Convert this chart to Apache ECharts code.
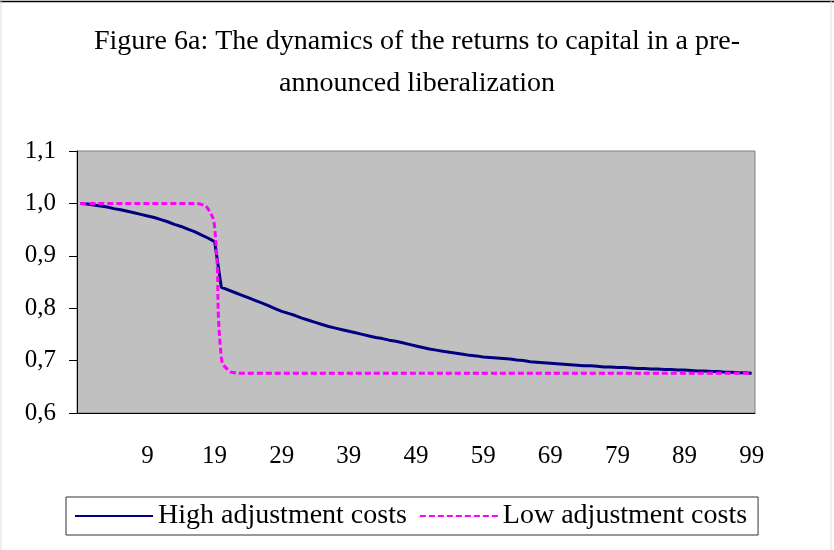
<!DOCTYPE html>
<html>
<head>
<meta charset="utf-8">
<script src="https://cdn.jsdelivr.net/npm/echarts@6/dist/echarts.min.js"></script>
<style>
  html, body { margin: 0; padding: 0; background: #fff; }
  #chart { width: 834px; height: 550px; }
</style>
</head>
<body>
<div id="chart"></div>
<script>
// first slot has no label, then periods 0..99
var periods = [''];
for (var p = 0; p <= 99; p++) periods.push(String(p));

var yTicks = [0.6, 0.7, 0.8, 0.9, 1.0, 1.1];

var highCosts = [
  1.000,
  0.999, 0.997, 0.995, 0.993, 0.990, 0.988, 0.985, 0.982, 0.979, 0.976,
  0.973, 0.969, 0.965, 0.960, 0.956, 0.951, 0.946, 0.940, 0.934, 0.927,
  0.840, 0.835, 0.830, 0.825, 0.820, 0.815, 0.810, 0.805, 0.799, 0.794,
  0.790, 0.786, 0.781, 0.777, 0.773, 0.769, 0.765, 0.762, 0.759, 0.756,
  0.753, 0.750, 0.747, 0.744, 0.742, 0.739, 0.737, 0.734, 0.731, 0.728,
  0.725, 0.722, 0.720, 0.718, 0.716, 0.714, 0.712, 0.710, 0.709, 0.707,
  0.706, 0.705, 0.704, 0.703, 0.701, 0.700, 0.698, 0.697, 0.696, 0.695,
  0.694, 0.693, 0.692, 0.691, 0.690, 0.690, 0.689, 0.688, 0.688, 0.687,
  0.687, 0.686, 0.685, 0.685, 0.684, 0.684, 0.683, 0.683, 0.682, 0.682,
  0.681, 0.680, 0.680, 0.679, 0.679, 0.678, 0.678, 0.677, 0.677, 0.676
];

var lowCosts = [
  1.000,
  1.000, 1.000, 1.000, 1.000, 1.000, 1.000, 1.000, 1.000, 1.000, 1.000,
  1.000, 1.000, 1.000, 1.000, 1.000, 1.000, 1.000, 0.998, 0.990, 0.955,
  0.705, 0.682, 0.677, 0.676, 0.676, 0.676, 0.676, 0.676, 0.676, 0.676,
  0.676, 0.676, 0.676, 0.676, 0.676, 0.676, 0.676, 0.676, 0.676, 0.676,
  0.676, 0.676, 0.676, 0.676, 0.676, 0.676, 0.676, 0.676, 0.676, 0.676,
  0.676, 0.676, 0.676, 0.676, 0.676, 0.676, 0.676, 0.676, 0.676, 0.676,
  0.676, 0.676, 0.676, 0.676, 0.676, 0.676, 0.676, 0.676, 0.676, 0.676,
  0.676, 0.676, 0.676, 0.676, 0.676, 0.676, 0.676, 0.676, 0.676, 0.676,
  0.676, 0.676, 0.676, 0.676, 0.676, 0.676, 0.676, 0.676, 0.676, 0.676,
  0.676, 0.676, 0.676, 0.676, 0.676, 0.676, 0.676, 0.676, 0.676, 0.676
];

var serif = "'Liberation Serif', 'Times New Roman', serif";

var chart = echarts.init(document.getElementById('chart'));
var option = {
  backgroundColor: '#fff',
  animation: false,
  title: {
    text: 'Figure 6a: The dynamics of the returns to capital in a pre-\nannounced liberalization',
    left: 'center',
    top: 16,
    textStyle: { fontFamily: serif, fontSize: 28, fontWeight: 'normal', color: '#000', lineHeight: 42 }
  },
  legend: {
    left: 66,
    top: 497,
    width: 700,
    itemWidth: 78,
    itemHeight: 14,
    itemGap: 12,
    padding: [5, 11, 5, 8],
    backgroundColor: '#fff',
    borderColor: '#333',
    borderWidth: 1,
    itemStyle: { opacity: 0 },
    textStyle: { fontFamily: serif, fontSize: 28, color: '#000' },
    data: ['High adjustment costs', 'Low adjustment costs']
  },
  grid: { left: 77, right: 79, top: 151, bottom: 137, show: true, backgroundColor: '#C0C0C0', borderColor: '#808080', borderWidth: 1 },
  xAxis: {
    type: 'category',
    boundaryGap: true,
    data: periods,
    axisLine: { lineStyle: { color: '#000', width: 1 } },
    axisTick: { interval: 9, length: 8, lineStyle: { color: '#000' } },
    axisLabel: { interval: 9, margin: 31, fontFamily: serif, fontSize: 25, color: '#000' },
    splitLine: { show: false }
  },
  yAxis: {
    type: 'value',
    min: yTicks[0],
    max: yTicks[yTicks.length - 1],
    interval: 0.1,
    axisLine: { show: true, lineStyle: { color: '#000', width: 1 } },
    axisTick: { show: true, length: 8, lineStyle: { color: '#000' } },
    axisLabel: {
      margin: 21,
      fontFamily: serif, fontSize: 25, color: '#000',
      formatter: function (v) { return v.toFixed(1).replace('.', ','); }
    },
    splitLine: { show: false }
  },
  series: [
    {
      name: 'High adjustment costs',
      type: 'line',
      symbol: 'none',
      data: highCosts,
      lineStyle: { color: '#000080', width: 3 },
      itemStyle: { color: '#000080' }
    },
    {
      name: 'Low adjustment costs',
      type: 'line',
      symbol: 'none',
      smooth: 0.5,
      data: lowCosts,
      lineStyle: { color: '#FF00FF', width: 3, type: [6, 3] },
      itemStyle: { color: '#FF00FF' }
    }
  ],
  graphic: [
    { type: 'line', shape: { x1: 0, y1: 1.5, x2: 834, y2: 1.5 }, style: { stroke: '#000', lineWidth: 1.5 } },
    { type: 'line', shape: { x1: 1, y1: 1, x2: 1, y2: 550 }, style: { stroke: '#ddd', lineWidth: 1 } },
    { type: 'line', shape: { x1: 831, y1: 1, x2: 831, y2: 550 }, style: { stroke: '#ddd', lineWidth: 1 } }
  ]
};
chart.setOption(option);
</script>
</body>
</html>
